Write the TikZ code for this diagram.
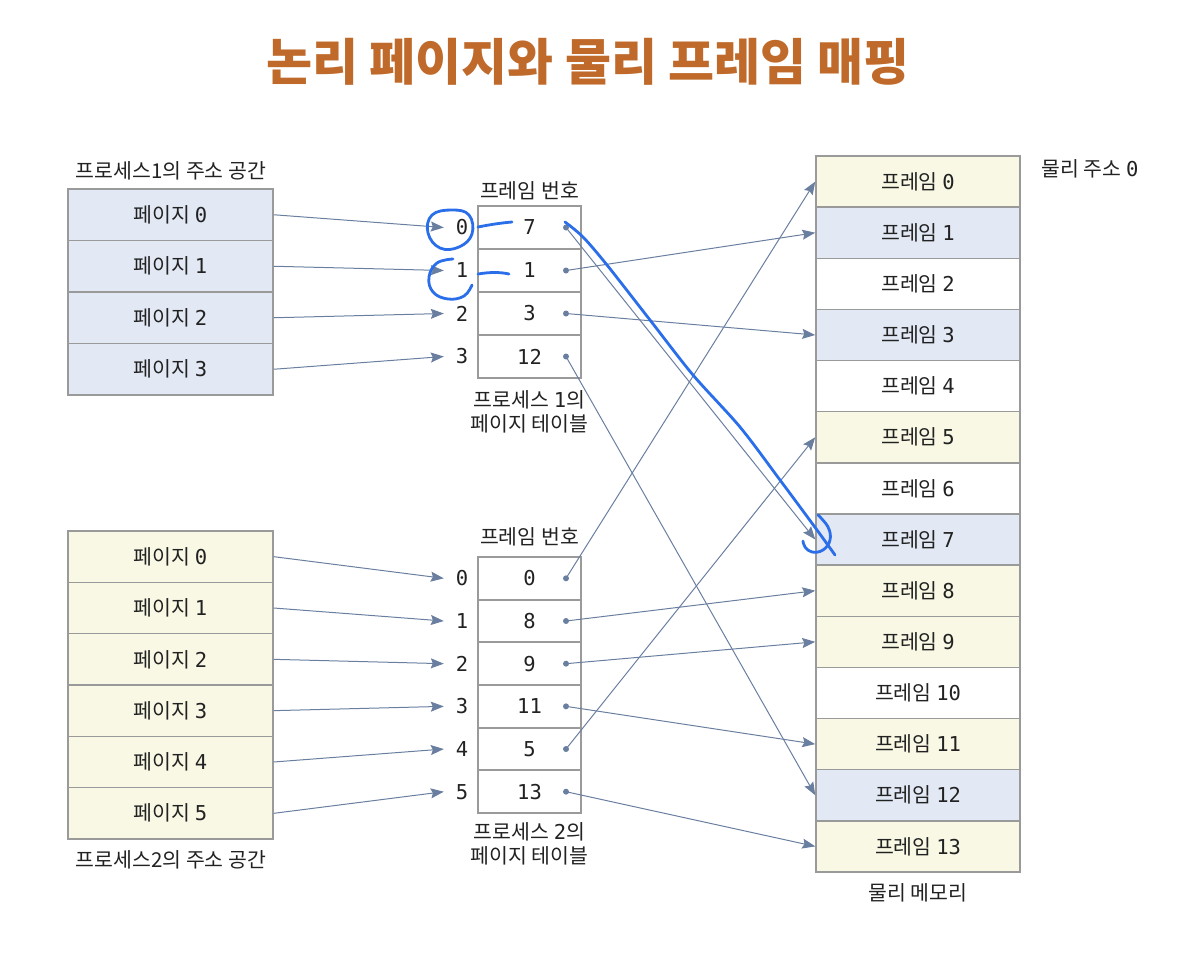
\documentclass[tikz,border=0pt]{standalone}
\usepackage{fontspec}
\usetikzlibrary{arrows.meta}
\setmainfont{Noto Sans CJK KR}
\newfontfamily\monof{DejaVu Sans Mono}
\newcommand\mnum[1]{{\monof #1}}
\definecolor{gridc}{HTML}{9A9A9A}
\definecolor{blu}{HTML}{E2E9F5}
\definecolor{ylw}{HTML}{F8F8E4}
\definecolor{arrc}{HTML}{6A7FA0}
\definecolor{annotc}{HTML}{2A6EEA}
\definecolor{titlec}{HTML}{BF6A2A}
\definecolor{txt}{HTML}{222222}
\tikzset{
  cell/.style={draw=gridc, line width=1.5pt, inner sep=0pt, text=txt, font=\fontsize{20.5}{24}\selectfont},
  prow/.style={cell, minimum width=205pt, minimum height=51.4pt},
  trow/.style={cell, minimum width=103pt, minimum height=43pt},
  mrow/.style={cell, minimum width=204pt, minimum height=51.14pt},
  idx/.style={text=txt, font=\fontsize{20.5}{24}\selectfont, minimum width=36pt, inner sep=0pt},
  dotn/.style={circle, fill=arrc, inner sep=0pt, minimum size=6pt},
  link/.style={draw=arrc, line width=1pt, -{Stealth[length=13pt,width=10pt,inset=2pt]}},
  annot/.style={draw=annotc, line width=2.8pt, line cap=round, line join=round},
  lbl/.style={text=txt, font=\fontsize{20.5}{24}\selectfont, inner sep=0pt, align=center},
}
\begin{document}
\begin{tikzpicture}[x=1pt,y=-1pt]
\useasboundingbox (0,0) rectangle (1190,956);
\node[text=titlec, font=\fontsize{50}{56}\selectfont\bfseries] (title) at (588,62) {논리 페이지와 물리 프레임 매핑};

% labels
\node[lbl] (l1) at (171,171) {프로세스1의 주소 공간};
\node[lbl] (l2) at (171,860) {프로세스2의 주소 공간};
\node[lbl] (h1) at (529.5,191) {프레임 번호};
\node[lbl] (h2) at (529.5,537) {프레임 번호};
\node[lbl] (c1) at (529.5,412) {프로세스 \mnum{1}의\\페이지 테이블};
\node[lbl] (c2) at (529.5,844) {프로세스 \mnum{2}의\\페이지 테이블};
\node[lbl] (pa) at (1090,169) {물리 주소 \mnum{0}};
\node[lbl] (pm) at (918,893) {물리 메모리};

% physical memory
\foreach \i/\f in {0/ylw,1/blu,2/white,3/blu,4/white,5/ylw,6/white,7/blu,8/ylw,9/ylw,10/white,11/ylw,12/blu,13/ylw}
  \node[mrow, fill=\f] (m\i) at (918,{156+51.14*(\i+0.5)}) {프레임 \mnum{\i}};

% process 1
\foreach \i/\v in {0/7,1/1,2/3,3/12}{
  \node[prow, fill=blu] (pa\i) at (170.5,{189+51.5*(\i+0.5)}) {페이지 \mnum{\i}};
  \node[trow] (ta\i) at (529.5,{206+43*(\i+0.5)}) {\mnum{\v}};
  \node[idx] (ia\i) at (462,{206+43*(\i+0.5)}) {\mnum{\i}};
  \node[dotn] (da\i) at (566,{206+43*(\i+0.5)}) {};
}
% process 2
\foreach \i/\v in {0/0,1/8,2/9,3/11,4/5,5/13}{
  \node[prow, fill=ylw] (pb\i) at (170.5,{531+51.33*(\i+0.5)}) {페이지 \mnum{\i}};
  \node[trow] (tb\i) at (529.5,{557+42.67*(\i+0.5)}) {\mnum{\v}};
  \node[idx] (ib\i) at (462,{557+42.67*(\i+0.5)}) {\mnum{\i}};
  \node[dotn] (db\i) at (566,{557+42.67*(\i+0.5)}) {};
}
% links
\foreach \i/\v in {0/7,1/1,2/3,3/12}{
  \draw[link] (pa\i.east) -- (ia\i.west);
  \draw[link] (da\i.center) -- (m\v.west);
}
\foreach \i/\v in {0/0,1/8,2/9,3/11,4/5,5/13}{
  \draw[link] (pb\i.east) -- (ib\i.west);
  \draw[link] (db\i.center) -- (m\v.west);
}

% handwritten annotations
\draw[annot] plot[smooth cycle, tension=0.7] coordinates {(452,210) (432,215) (428,233) (440,248) (459,247) (472,234) (469,215)};
\draw[annot] (478,227) .. controls (488,225) and (500,223) .. (512,222);
\draw[annot] plot[smooth, tension=0.7] coordinates {(453,259) (437,263) (429,277) (433,292) (448,299) (464,296) (472,285)};
\draw[annot] (478,274) .. controls (490,272) and (500,272) .. (509,274);
\draw[annot] plot[smooth, tension=0.5] coordinates {(565,222) (583,237) (607,265) (650,320) (693,375) (740,427) (780,480) (817,530) (835,555)};
\draw[annot] plot[smooth, tension=0.7] coordinates {(818,515) (828,527) (830,540) (823,550) (812,552) (805,547) (803,541)};
\end{tikzpicture}
\end{document}
